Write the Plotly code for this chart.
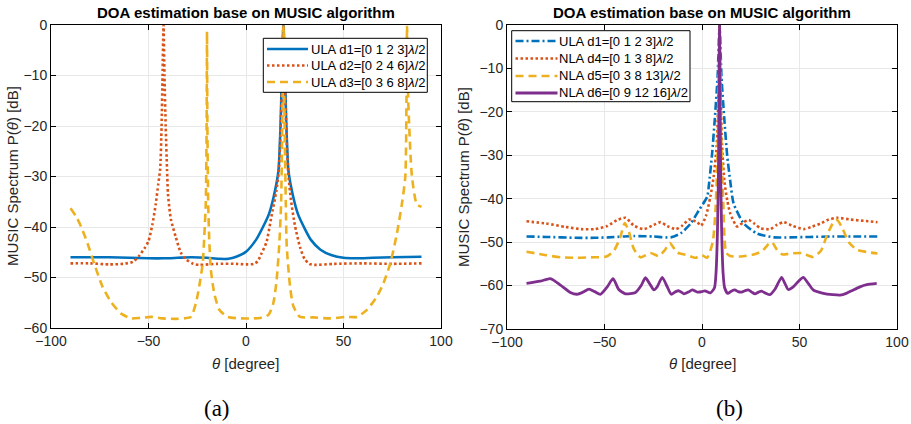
import plotly.graph_objects as go

W, H = 911, 424

# ---------------- Panel (a) data ----------------
theta_a_d1 = [-90, -80, -70, -60, -50, -42, -35, -28, -20, -14, -9, -5, 0, 5.2, 8.7, 11.7, 14.2, 16.6, 17.7, 18.4, 19.2,
              20.0, 20.7, 21.8, 24.2, 26.7, 29.7, 33.2, 38.2, 44, 50, 56, 65, 75, 90]
p_a_d1 = [-46.0, -46.0, -46.0, -46.1, -46.2, -46.2, -46.1, -46.0, -46.1, -46.3, -46.3, -45.9, -44.9, -42.5, -40.0, -37.5,
          -34.0, -29.0, -20.0, -10.0, 0.0, -10.0, -20.0, -29.0, -34.0, -37.5, -40.0, -42.5, -44.5, -45.6, -46.1, -46.2,
          -46.1, -46.0, -45.9]

theta_a_d2 = [-90, -80, -70, -63, -58, -55, -52, -50, -48, -46.3, -45, -44, -43.3, -42.8, -42.3, -41.8, -41.2, -40.5, -40,
              -38.5, -36, -33.5, -30.5, -27, -24, -15, -5, 0, 4, 6, 8, 10.5, 13, 15.5, 16.8, 17.8, 18.4, 19.2, 20.0,
              20.6, 21.6, 23, 25, 27.7, 30, 32.5, 35, 45, 60, 75, 90]
p_a_d2 = [-47.2, -47.2, -47.4, -47.3, -46.9, -45.8, -44.2, -42.8, -39.5, -35.5, -31.5, -28.5, -20.0, -10.0, 0.0, -10.0,
          -20.0, -28.5, -33.5, -38.5, -42.0, -45.0, -46.5, -47.3, -47.5, -47.3, -47.3, -47.4, -47.3, -46.8, -45.2, -43.0,
          -38.0, -33.0, -29.0, -20.0, -12.0, 0.0, -12.0, -20.0, -29.0, -34.5, -39.5, -44.0, -46.3, -47.3, -47.5, -47.3,
          -47.2, -47.3, -47.2]

theta_a_d3 = [-90, -87, -84.6, -81.3, -77.9, -73.6, -69.3, -64.2, -59, -54, -48.8, -43, -36, -31.7, -28.2, -25.7, -24,
              -22.2, -21.4, -20.6, -20.2, -20.0, -19.8, -19.4, -18.8, -18, -16.3, -13.7, -9.4, -2.5, 3, 7.2, 11.5, 14,
              15.7, 17.1, 18, 18.6, 19.2, 19.8, 20.4, 20.9, 22.6, 24.3, 27.7, 34.6, 43.1, 51.6, 56.9, 62, 67.1, 70.5,
              74, 77.4, 80, 81.7, 82.3, 82.6, 83.2, 85.1, 87.6, 90]
p_a_d3 = [-36.3, -38.0, -39.9, -43.2, -47.2, -51.8, -54.8, -57.1, -58.1, -58.0, -57.8, -58.1, -58.2, -58.1, -57.8, -55.1,
          -51.8, -47.2, -41.9, -35.0, -20.0, -1.3, -20.0, -35.0, -43.0, -48.5, -53.1, -56.4, -57.8, -58.1, -58.1, -58.0,
          -57.4, -55.1, -50.5, -43.2, -35.3, -20.0, 0.0, -20.0, -35.0, -43.9, -51.8, -55.7, -57.8, -57.9, -58.1, -57.8,
          -57.8, -56.4, -53.8, -51.1, -47.2, -41.3, -35.3, -30.0, -15.0, 0.0, -15.0, -30.0, -35.5, -36.0]

# ---------------- Panel (b) data ----------------
theta_b_d1 = [-90, -80, -65, -55, -48, -40, -35, -25, -16, -11, -5.8, -1.5, 2.7, 3.5, 5.1, 6.5, 8.0, 9, 10.0, 11.5, 12.9,
              14.5, 16.2, 21.4, 28.2, 36.8, 45, 55, 67, 80, 90]
p_b_d1 = [-48.7, -48.8, -49.0, -49.0, -48.9, -48.7, -48.6, -48.7, -48.9, -48.0, -45.7, -42.6, -39.5, -37.0, -30.0, -22.0,
          -12.0, 0.0, -12.0, -22.0, -30.0, -36.0, -41.1, -45.7, -48.0, -48.9, -48.9, -48.8, -48.7, -48.7, -48.7]

theta_b_d4 = [-90, -80, -70, -62, -55, -48.6, -43.5, -39.2, -34.9, -29.8, -25.5, -21.2, -17.8, -13.5, -10.1, -6.7, -2.4,
              -0.5, 2, 4.3, 6, 7.5, 8.5, 9, 9.5, 10.3, 11.5, 13, 14.5, 18, 21, 24, 27, 30, 35.1, 38.5, 41.9, 46.2, 52.2,
              56, 60.8, 65, 69.3, 76.2, 83, 90]
p_b_d4 = [-45.2, -45.7, -46.5, -47.0, -47.0, -46.3, -44.9, -44.4, -46.2, -47.0, -46.2, -45.4, -46.3, -47.0, -46.2, -44.8,
          -45.4, -46.2, -44.0, -39.5, -34.8, -28.0, -15.0, 0.0, -15.0, -28.0, -36.0, -40.5, -43.4, -46.4, -45.5, -44.9,
          -45.8, -46.8, -47.0, -46.0, -45.4, -46.2, -47.0, -46.5, -45.7, -44.8, -44.4, -44.8, -45.1, -45.4]

theta_b_d5 = [-90, -80, -72, -64, -57, -49, -45.2, -42, -39.6, -37.5, -35, -31.5, -26.5, -22.1, -19, -16.5, -12.7, -7.5,
              -3.3, 0, 2.6, 5.5, 7, 8.2, 9, 9.8, 11, 12.4, 14.5, 20, 27, 31, 34, 35.9, 38.5, 41, 46, 51, 57, 61, 64.2,
              67.6, 69.3, 72, 75.3, 79.6, 85, 90]
p_b_d5 = [-52.2, -53.0, -53.5, -53.6, -53.5, -53.3, -52.0, -49.0, -45.6, -47.6, -51.5, -53.5, -52.5, -53.2, -51.8, -50.2,
          -52.4, -53.0, -53.6, -53.0, -53.6, -50.0, -42.0, -25.0, 0.0, -25.0, -42.0, -52.4, -53.2, -53.3, -52.8, -52.0,
          -50.5, -50.0, -51.8, -52.8, -52.6, -52.5, -53.4, -52.0, -48.3, -45.3, -44.9, -46.8, -50.0, -51.8, -52.3, -52.6]

theta_b_d6 = [-90, -83, -77.7, -72.6, -67.5, -64.1, -61, -58, -55, -52.1, -48.6, -45.6, -42.7, -39.3, -34.1, -31.2, -29,
              -26.4, -24.7, -23, -20.4, -17.8, -15.8, -13.5, -11.8, -9.3, -7, -5, -2.4, 0, 1.5, 4.3, 6.4, 7.2, 7.9, 8.4,
              8.7, 9, 9.3, 9.6, 10.1, 10.8, 11.6, 13.2, 15, 16.8, 18.5, 20.3, 22, 23.7, 25.5, 27.1, 29, 30.5, 32.5,
              34.8, 37.5, 40.8, 42.5, 44.2, 46.8, 49.5, 51.9, 54.5, 57, 62.2, 67, 70.8, 74, 77.6, 81, 84.5, 89.6]
p_b_d6 = [-59.5, -59.0, -58.4, -59.9, -61.6, -62.0, -61.5, -60.8, -61.4, -62.0, -60.3, -58.4, -60.9, -61.9, -61.6, -60.0,
          -58.2, -59.9, -61.0, -60.3, -58.1, -60.3, -62.0, -61.4, -61.2, -61.9, -61.5, -61.0, -61.5, -61.4, -61.2, -61.7,
          -60.5, -57.0, -48.0, -35.0, -20.0, 0.0, -20.0, -35.0, -48.0, -57.0, -60.5, -61.8, -61.3, -61.0, -61.4, -61.5,
          -61.2, -61.0, -61.5, -61.9, -61.5, -61.3, -61.7, -62.1, -60.8, -58.1, -59.5, -60.9, -60.3, -59.0, -58.1, -59.5,
          -61.0, -61.8, -62.1, -62.2, -61.8, -61.0, -60.3, -59.8, -59.5]

names_a = ["ULA d1=[0 1 2 3]<i>λ</i>/2", "ULA d2=[0 2 4 6]<i>λ</i>/2", "ULA d3=[0 3 6 8]<i>λ</i>/2"]
names_b = ["ULA d1=[0 1 2 3]<i>λ</i>/2", "NLA d4=[0 1 3 8]<i>λ</i>/2", "NLA d5=[0 3 8 13]<i>λ</i>/2",
           "NLA d6=[0 9 12 16]<i>λ</i>/2"]

BLUE, ORANGE, YELLOW, PURPLE = "#0072BD", "#D95319", "#EDB120", "#7E2F8E"
FONT = "Liberation Sans, Arial, sans-serif"
DOT, DASH, DASHDOT = "2.5px,2.5px", "8px,5px", "8px,3px,2px,3px"

styles_a = [(BLUE, "solid", 2.6), (ORANGE, DOT, 2.6), (YELLOW, DASH, 2.6)]
styles_b = [(BLUE, DASHDOT, 2.6), (ORANGE, DOT, 2.6), (YELLOW, DASH, 2.6), (PURPLE, "solid", 2.8)]

fig = go.Figure()

def add(x, y, name, style, xa, ya):
    color, dash, width = style
    fig.add_trace(go.Scatter(x=x, y=y, name=name, mode="lines", showlegend=False,
                             line=dict(color=color, dash=dash, width=width, shape="spline", smoothing=0.6),
                             xaxis=xa, yaxis=ya))

add(theta_a_d1, p_a_d1, names_a[0], styles_a[0], "x", "y")
add(theta_a_d2, p_a_d2, names_a[1], styles_a[1], "x", "y")
add(theta_a_d3, p_a_d3, names_a[2], styles_a[2], "x", "y")

add(theta_b_d1, p_b_d1, names_b[0], styles_b[0], "x2", "y2")
add(theta_b_d4, p_b_d4, names_b[1], styles_b[1], "x2", "y2")
add(theta_b_d5, p_b_d5, names_b[2], styles_b[2], "x2", "y2")
add(theta_b_d6, p_b_d6, names_b[3], styles_b[3], "x2", "y2")

axis_common = dict(showline=True, linecolor="black", linewidth=1, mirror="ticks", ticks="inside", ticklen=5,
                   tickcolor="black", showgrid=True, gridcolor="#e8e8e8", gridwidth=1, zeroline=False,
                   automargin=False, tickfont=dict(family=FONT, size=14, color="#262626"))

def px2x(px):
    return px / W

def py2y(py):
    return 1 - py / H

fig.update_layout(
    width=W, height=H, margin=dict(l=0, r=0, t=0, b=0),
    paper_bgcolor="white", plot_bgcolor="white", showlegend=False,
    xaxis=dict(domain=[px2x(51), px2x(441)], range=[-100, 100], dtick=50, anchor="y", **axis_common),
    yaxis=dict(domain=[py2y(328), py2y(25)], range=[-60, 0], dtick=10, anchor="x", **axis_common),
    xaxis2=dict(domain=[px2x(507), px2x(897)], range=[-100, 100], dtick=50, anchor="y2", **axis_common),
    yaxis2=dict(domain=[py2y(329), py2y(25)], range=[-70, 0], dtick=10, anchor="x2", **axis_common),
)

ann = []
shapes = []

def text(px, py, s, size=15, bold=False, family=FONT, angle=0, color="black", xanchor="center"):
    ann.append(dict(x=px2x(px), y=py2y(py), xref="paper", yref="paper", text=("<b>%s</b>" % s) if bold else s,
                    showarrow=False, xanchor=xanchor, yanchor="middle", textangle=angle,
                    font=dict(family=family, size=size, color=color)))

def legend_box(x0, y0, x1, y1, rows, names, styles, lx0, lx1, tx):
    shapes.append(dict(type="rect", xref="paper", yref="paper", x0=px2x(x0), x1=px2x(x1), y0=py2y(y1), y1=py2y(y0),
                       line=dict(color="black", width=1), fillcolor="white", layer="above"))
    for ry, name, (color, dash, width) in zip(rows, names, styles):
        shapes.append(dict(type="line", xref="paper", yref="paper", x0=px2x(lx0), x1=px2x(lx1), y0=py2y(ry),
                           y1=py2y(ry), line=dict(color=color, dash=dash, width=width), layer="above"))
        text(tx, ry, name, size=13, xanchor="left")

legend_box(263.3, 38.3, 427.3, 92.3, [49, 65.5, 82], names_a, styles_a, 267, 308, 309)
legend_box(511.7, 30.7, 690, 101.7, [41, 58.5, 76, 93], names_b, styles_b, 515.5, 557.5, 557)

title = "DOA estimation base on MUSIC algorithm"
text(246, 12.5, title, size=15, bold=True)
text(702, 12.5, title, size=15, bold=True)
xlabel = "<i>θ</i> [degree]"
text(246, 363, xlabel, color="#262626")
text(702, 363, xlabel, color="#262626")
ylabel = "MUSIC Spectrum P(<i>θ</i>) [dB]"
text(12, 176, ylabel, angle=-90, color="#262626")
text(463, 177, ylabel, angle=-90, color="#262626")
text(217, 408, "(a)", size=23, family="Liberation Serif, Times New Roman, serif")
text(729, 408, "(b)", size=23, family="Liberation Serif, Times New Roman, serif")
fig.update_layout(annotations=ann, shapes=shapes)

fig.write_html("out.html", config={"displayModeBar": False},
               post_script="document.body.style.margin='0';document.body.style.overflow='hidden';")
